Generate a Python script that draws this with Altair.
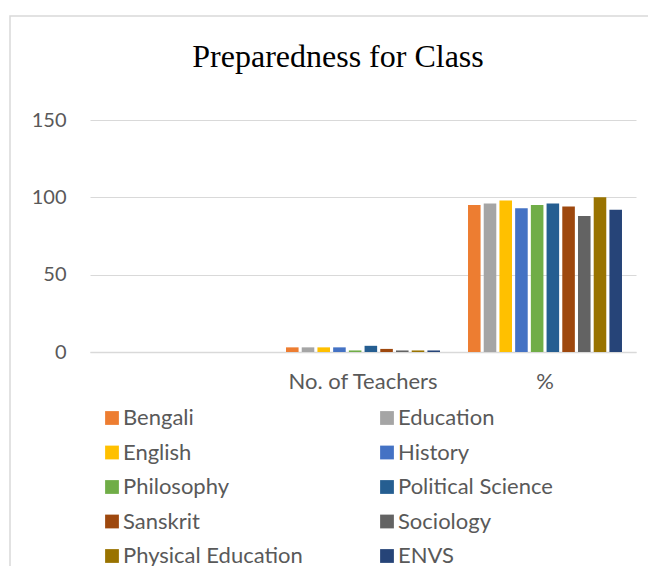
import altair as alt
import pandas as pd

categories = [" ", "No. of Teachers", "%"]
subjects = ["Bengali", "Education", "English", "History", "Philosophy",
            "Political Science", "Sanskrit", "Sociology", "Physical Education", "ENVS"]
teachers = [3, 3, 3, 3, 1, 4, 2, 1, 1, 1]
percent = [95, 96, 98, 93, 95, 96, 94, 88, 100, 92]
colors = ["#ED7D31", "#A5A5A5", "#FFC000", "#4472C4", "#70AD47",
          "#255E91", "#9E480E", "#636363", "#997300", "#264478"]
y_ticks = [0, 50, 100, 150]
title_text = "Preparedness for Class"

rows = []
for s, t, p in zip(subjects, teachers, percent):
    rows.append({"category": "No. of Teachers", "subject": s, "value": t})
    rows.append({"category": "%", "subject": s, "value": p})
df = pd.DataFrame(rows)

W, H = 546, 232
GRAY = "#595959"

bars = alt.Chart(df).mark_bar().encode(
    x=alt.X("category:N",
            scale=alt.Scale(domain=categories, paddingInner=0.154, paddingOuter=0.077),
            axis=alt.Axis(title=None, labelAngle=0, ticks=False, domainColor="#d9d9d9",
                          domainWidth=1.5, labelFont="Lato", labelFontSize=22,
                          labelColor=GRAY, labelPadding=19)),
    xOffset=alt.XOffset("subject:N", scale=alt.Scale(domain=subjects, paddingInner=0.2)),
    y=alt.Y("value:Q", scale=alt.Scale(domain=[0, 150], nice=False),
            axis=alt.Axis(title=None, values=y_ticks, ticks=False, domain=False,
                          gridColor="#d9d9d9", gridWidth=1, labelFont="Lato",
                          labelFontSize=20, labelColor=GRAY, labelPadding=24)),
    color=alt.Color("subject:N", scale=alt.Scale(domain=subjects, range=colors),
                    legend=alt.Legend(title=None, orient="none", legendX=11, legendY=287,
                                      columns=2, direction="horizontal",
                                      symbolType="square", symbolSize=190,
                                      symbolStrokeWidth=0, labelFont="Lato",
                                      labelFontSize=22, labelColor=GRAY, labelOffset=0,
                                      labelLimit=400,
                                      rowPadding=12.5, columnPadding=73)),
)

border = alt.Chart(pd.DataFrame({"k": [0]})).mark_rect(
    fillOpacity=0, stroke="#d9d9d9", strokeWidth=1.5
).encode(x=alt.value(-80), x2=alt.value(W + 40), y=alt.value(-104), y2=alt.value(H + 260))

title = alt.Chart(pd.DataFrame({"k": [0]})).mark_text(
    text=title_text, font="Liberation Serif", fontSize=32, color="black",
    align="center", baseline="alphabetic"
).encode(x=alt.value(338 - 90), y=alt.value(66.5 - 120))

chart = alt.layer(border, bars, title).properties(
    width=W, height=H,
    autosize=alt.AutoSizeParams(type="none"),
    padding={"left": 82, "top": 112, "right": 12, "bottom": 214}
).configure_view(stroke=None)

chart.save("out.html", embed_options={"renderer": "svg", "actions": False})
